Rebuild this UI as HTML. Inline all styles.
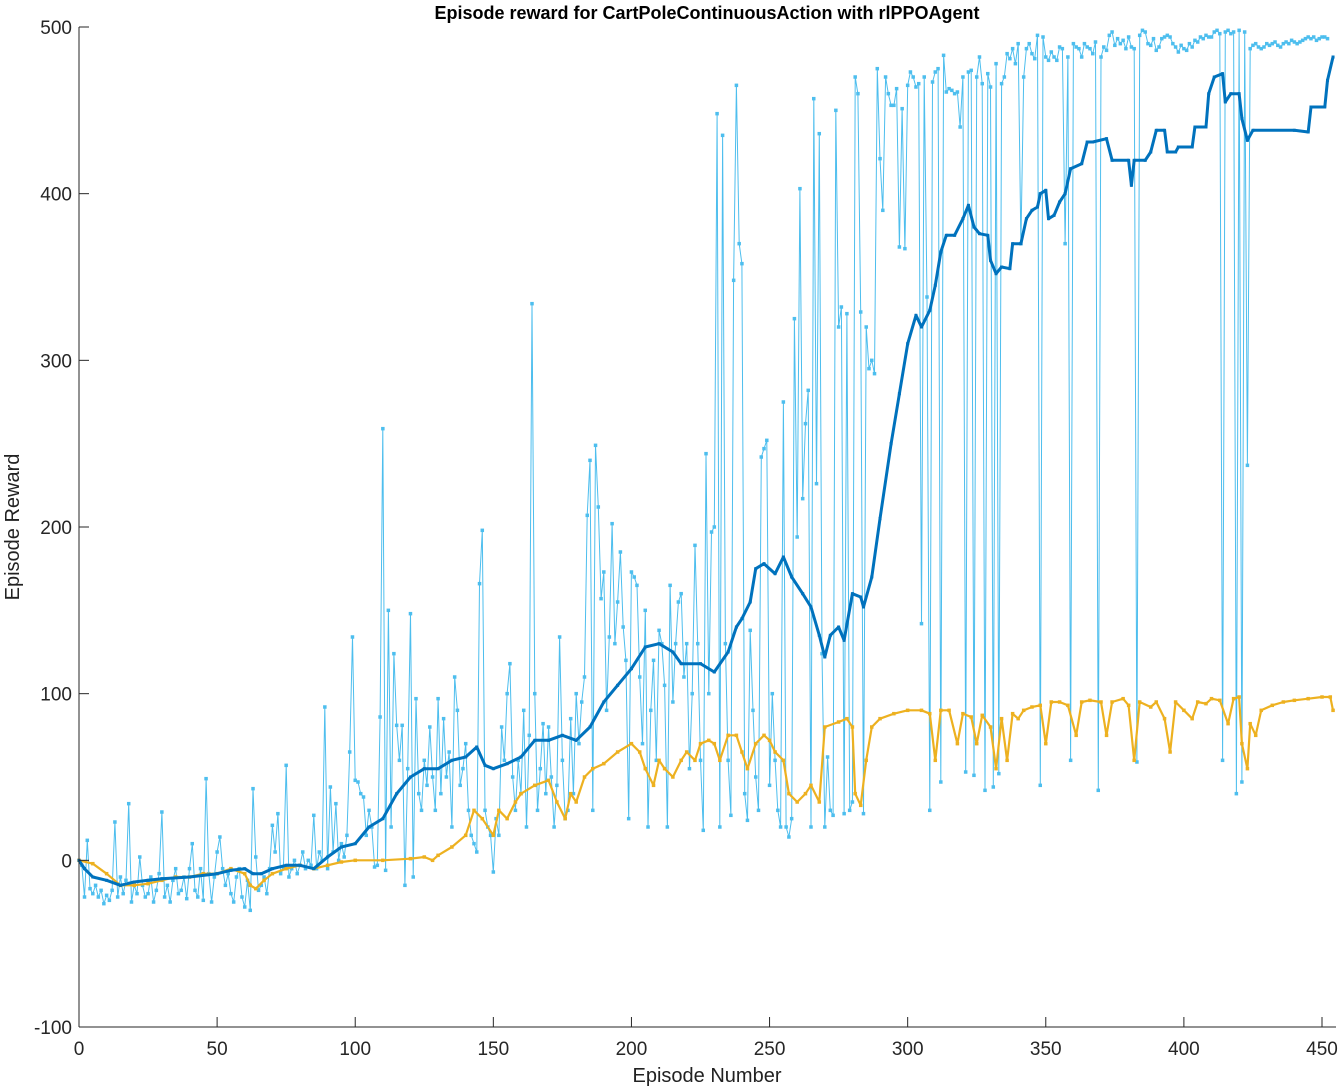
<!DOCTYPE html>
<html><head><meta charset="utf-8"><style>
html,body{margin:0;padding:0;background:#fff;}
svg{display:block;font-family:"Liberation Sans",Arial,sans-serif;}
</style></head><body>
<svg id="chart" width="1342" height="1089" viewBox="0 0 1342 1089" xmlns="http://www.w3.org/2000/svg">
<rect x="0" y="0" width="1342" height="1089" fill="#fff"/>
<text x="707" y="19" text-anchor="middle" font-size="18" font-weight="bold" fill="#000">Episode reward for CartPoleContinuousAction with rlPPOAgent</text>
<text x="707" y="1082" text-anchor="middle" font-size="20" fill="#222">Episode Number</text>
<text transform="translate(19,527) rotate(-90)" text-anchor="middle" font-size="20" fill="#222">Episode Reward</text>
<g id="grid"></g>
<g id="series"></g>
<g id="axes"></g>
</svg>
<script>
const xTicks=[0,50,100,150,200,250,300,350,400,450];
const yTicks=[-100,0,100,200,300,400,500];
const episodeReward=[
-3,-22,12,-17,-20,-15,-22,-18,-26,-21,
-24,-18,23,-22,-10,-20,-12,34,-25,-15,
-20,2,-15,-22,-20,-10,-25,-18,-8,29,
-22,-15,-25,-12,-5,-20,-18,-10,-23,-5,
10,-18,-22,-5,-24,49,-8,-25,-10,5,
14,-5,-15,-8,-20,-25,-10,-5,-22,-28,
-12,-30,43,2,-18,-15,-10,-20,-5,21,
5,28,-8,-5,57,-10,-5,0,-8,-3,
5,-5,0,-3,27,-5,5,0,92,-5,
44,5,34,0,10,2,15,65,134,48,
47,40,38,15,30,20,-4,-3,86,259,
-6,150,20,124,81,60,81,-15,55,148,
-10,97,40,30,60,45,80,50,30,97,
40,85,50,65,20,110,90,45,55,70,
30,15,10,5,166,198,30,20,15,-7,
25,15,80,60,100,118,50,30,60,40,
90,20,75,334,100,30,55,82,40,80,
50,20,45,134,60,25,30,85,40,100,
70,95,110,207,240,30,249,212,157,173,
90,134,202,130,155,185,140,120,25,173,
170,165,110,70,150,20,90,120,60,138,
130,105,20,165,95,130,155,160,110,130,
55,100,189,130,60,18,244,100,197,200,
448,20,435,130,60,27,348,465,370,358,
40,24,138,90,50,30,242,247,252,45,
100,60,30,20,275,20,14,25,325,194,
403,217,262,282,20,457,226,436,124,20,
62,30,27,450,320,332,28,328,30,35,
470,460,329,28,320,295,300,292,475,421,
390,470,460,453,453,463,368,451,367,465,
473,470,464,466,142,470,338,30,467,473,
475,47,483,461,463,462,460,461,440,470,
53,473,474,51,470,482,466,42,472,464,
44,478,52,466,470,484,481,487,478,490,
370,470,487,490,484,481,495,45,494,482,
480,485,482,480,488,487,370,482,60,490,
488,487,482,490,488,487,484,491,42,482,
488,486,495,497,489,493,490,492,487,494,
488,487,59,495,498,497,490,489,493,486,
488,493,494,495,494,490,488,485,489,487,
486,490,488,492,491,494,493,495,494,494,
497,498,496,60,497,498,496,497,40,498,
47,497,237,487,489,490,488,487,488,490,
489,490,491,489,488,490,491,490,492,491,
490,491,492,493,494,493,494,492,493,494,494,493];
const avgEpisodes=[0,2,5,10,15,20,25,30,40,50,55,60,63,66,70,75,80,85,90,95,100,105,110,115,120,125,130,135,140,144,147,150,155,160,165,170,175,180,185,190,195,200,205,210,215,218,225,230,235,238,240,243,245,248,252,255,258,262,265,268,270,272,275,277,280,283,284,287,290,294,297,300,303,305,308,310,312,314,317,320,322,324,326,329,330,332,334,337,338,341,343,345,347,348,350,351,353,355,357,359,363,365,367,372,374,380,381,382,386,388,390,393,394,397,398,403,404,408,409,411,414,415,417,420,421,423,425,440,445,446,451,452,454];
const avgReward=[0,-5,-10,-12,-15,-13,-12,-11,-10,-8,-6,-5,-8,-8,-5,-3,-3,-5,2,8,10,20,25,40,50,55,55,60,62,68,57,55,58,62,72,72,75,72,80,95,105,115,128,130,125,118,118,113,125,140,145,155,175,178,172,182,170,160,152,135,122,135,140,132,160,158,152,170,205,250,280,310,327,320,330,345,365,375,375,385,393,380,376,375,360,352,356,355,370,370,385,390,392,400,402,385,387,395,400,415,418,431,431,433,420,420,405,420,420,425,438,438,425,425,428,428,440,440,460,470,472,455,460,460,445,432,438,438,437,452,452,468,482];
const q0Episodes=[0,5,10,15,20,25,30,35,40,45,50,55,60,62,64,67,70,75,80,85,90,95,100,110,120,125,128,130,135,140,143,146,150,152,155,158,160,165,170,173,176,178,180,183,186,190,195,200,203,205,208,210,212,215,218,220,223,225,228,230,232,235,238,240,242,245,248,250,252,255,257,260,263,265,268,270,275,278,280,281,283,285,287,290,295,300,305,308,310,312,315,318,320,323,325,327,330,332,334,336,338,340,342,345,348,350,352,355,358,361,363,366,370,372,374,378,380,382,384,388,390,393,395,397,400,403,405,408,410,413,416,418,420,421,423,424,426,428,432,436,440,445,450,453,454];
const q0Value=[0,-2,-8,-15,-15,-14,-12,-10,-10,-8,-8,-5,-8,-15,-17,-12,-8,-5,-3,-5,-3,-1,0,0,1,2,0,3,8,15,30,25,15,30,25,35,40,45,48,35,25,40,35,50,55,58,65,70,65,55,45,60,55,50,60,65,60,70,72,70,60,75,75,65,55,70,75,72,65,60,40,35,40,45,35,80,83,85,80,40,33,60,80,85,88,90,90,88,60,90,90,70,88,86,70,87,80,55,85,60,88,85,90,92,93,70,95,95,93,75,95,96,95,75,95,97,93,60,95,92,95,85,65,95,90,85,95,94,97,96,82,97,98,70,55,82,75,90,93,95,96,97,98,98,90];

const L=79,R=1336,T=27,B=1027;
const xs=e=>L+(e-0)*(1322-79)/450;
const ys=v=>B-(v+100)*(B-T)/600;
const NS="http://www.w3.org/2000/svg";
function mk(tag,attrs,parent){const el=document.createElementNS(NS,tag);for(const k in attrs)el.setAttribute(k,attrs[k]);parent.appendChild(el);return el;}
const axes=document.getElementById('axes'),series=document.getElementById('series');

function drawSeries(xsArr,ysArr,color,lw,ms,name){
  const g=mk('g',{},series);
  
  
  const pts=ysArr.map((v,i)=>xs(xsArr[i]).toFixed(1)+','+ys(v).toFixed(1)).join(' ');
  const pl=mk('polyline',{points:pts,fill:'none',stroke:color,'stroke-width':lw,'stroke-linejoin':'round'},g);
  
  
  ysArr.forEach((v,i)=>{
    const r=mk('rect',{x:xs(xsArr[i])-ms/2,y:ys(v)-ms/2,width:ms,height:ms,fill:color},g);
    
    
  });
}
const epIdx=episodeReward.map((_,i)=>i+1);
drawSeries(epIdx,episodeReward,'#4DBEEE',1,3.5,'episode-reward-series');
drawSeries(q0Episodes,q0Value,'#EDB120',2.2,3.5,'episode-q0-series');
drawSeries(avgEpisodes,avgReward,'#0072BD',3,3,'average-reward-series');

mk('line',{x1:L,y1:B,x2:R,y2:B,stroke:'#262626','stroke-width':1},axes);
mk('line',{x1:L,y1:T,x2:L,y2:B,stroke:'#262626','stroke-width':1},axes);
xTicks.forEach(t=>{
  const x=xs(t);
  const tk=mk('line',{x1:x,y1:B,x2:x,y2:B-10,stroke:'#262626','stroke-width':1},axes);
  
  
  const tx=mk('text',{x:x,y:B+28,'text-anchor':'middle','font-size':19,fill:'#262626'},axes);
  tx.textContent=t;
  
  
});
yTicks.forEach(t=>{
  const y=ys(t);
  const tk=mk('line',{x1:L,y1:y,x2:L+10,y2:y,stroke:'#262626','stroke-width':1},axes);
  
  
  const tx=mk('text',{x:L-7,y:y+7,'text-anchor':'end','font-size':19,fill:'#262626'},axes);
  tx.textContent=t;
  
  
});
</script>
</body></html>
